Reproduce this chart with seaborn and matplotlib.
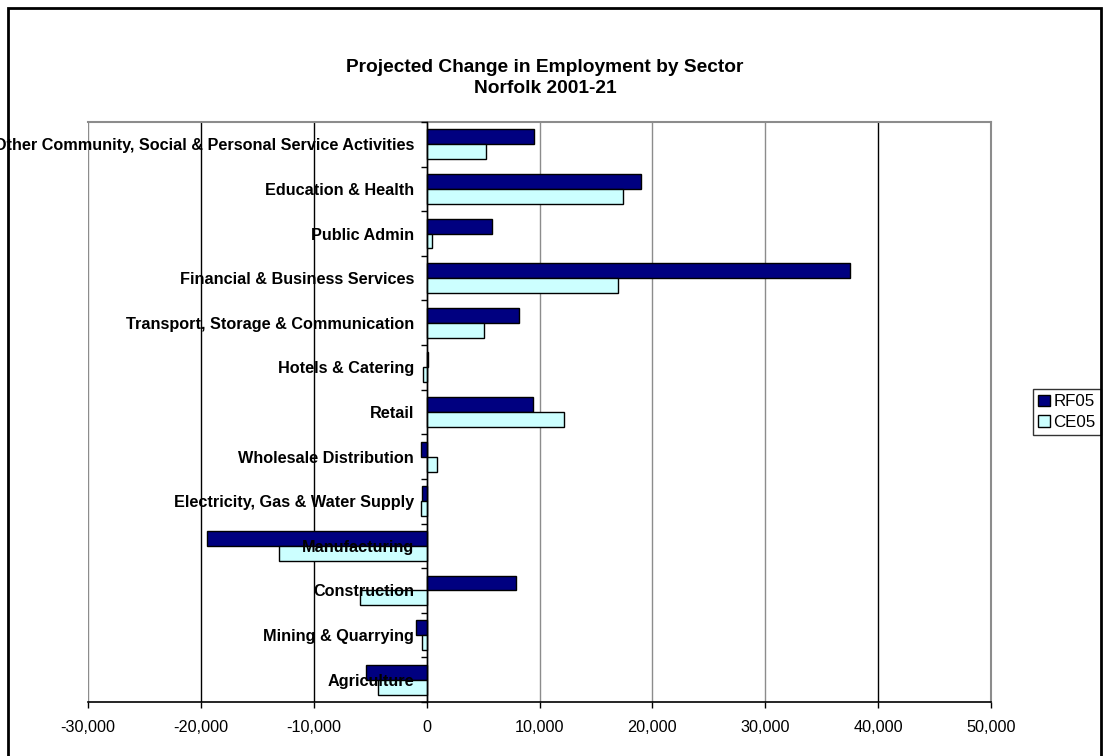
import matplotlib
matplotlib.use("Agg")
import matplotlib.pyplot as plt
import matplotlib.patches as mpatches
from matplotlib.ticker import FuncFormatter, FixedLocator
import seaborn as sns
import pandas as pd
import numpy as np

sectors = [
    "Other Community, Social & Personal Service Activities",
    "Education & Health",
    "Public Admin",
    "Financial & Business Services",
    "Transport, Storage & Communication",
    "Hotels & Catering",
    "Retail",
    "Wholesale Distribution",
    "Electricity, Gas & Water Supply",
    "Manufacturing",
    "Construction",
    "Mining & Quarrying",
    "Agriculture",
]
rf05 = [9500, 19000, 5760, 37530, 8200, 120, 9440, -490, -410, -19460, 7880, -920, -5340]
ce05 = [5230, 17400, 440, 16980, 5100, -340, 12200, 900, -480, -13050, -5930, -410, -4310]
series_names = ["RF05", "CE05"]
x_ticks = [-30000, -20000, -10000, 0, 10000, 20000, 30000, 40000, 50000]

df = pd.DataFrame({
    "sector": sectors * 2,
    "value": rf05 + ce05,
    "series": [series_names[0]] * len(sectors) + [series_names[1]] * len(sectors),
})

sns.set_theme(style="white")
plt.rcParams["font.family"] = ["Liberation Sans", "DejaVu Sans"]
plt.rcParams["text.color"] = "black"
plt.rcParams["xtick.color"] = "black"
plt.rcParams["ytick.color"] = "black"
plt.rcParams["axes.labelcolor"] = "black"

W, H = 1109, 756
fig = plt.figure(figsize=(W / 100, H / 100), dpi=100)
ax = fig.add_axes([88 / W, 1 - 702 / H, (991 - 88) / W, (702 - 122) / H])

palette = {"RF05": "#000080", "CE05": "#CCFFFF"}
sns.barplot(data=df, y="sector", x="value", hue="series", order=sectors,
            hue_order=series_names, palette=palette, orient="h",
            width=0.67, edgecolor="black", linewidth=1.0, errorbar=None,
            saturation=1, ax=ax, zorder=3)

ax.set_xlim(-30000, 50000)
ax.set_ylim(len(sectors) - 0.5, -0.5)
ax.set_xlabel("")
ax.set_ylabel("")

# gridlines
ax.xaxis.set_major_locator(FixedLocator(x_ticks))
ax.xaxis.set_major_formatter(FuncFormatter(lambda v, p: f"{int(v):,}"))
ax.grid(axis="x", linewidth=1.0)
ax.grid(axis="y", visible=False)
ax.set_axisbelow(True)
ax.yaxis.set_zorder(5)
grid_cols = ["#8c8c8c", "black", "black", "black", "#8c8c8c", "#8c8c8c", "#8c8c8c", "black", "#8c8c8c"]
for gl, c in zip(ax.get_xgridlines(), grid_cols):
    gl.set_color(c)

# spines
ax.spines["left"].set_position(("data", 0))
ax.spines["left"].set_color("black")
ax.spines["left"].set_linewidth(1.0)
ax.spines["left"].set_zorder(4)
ax.spines["bottom"].set_color("black")
ax.spines["bottom"].set_linewidth(1.2)
for s in ["top", "right"]:
    ax.spines[s].set_visible(True)
    ax.spines[s].set_color("#8c8c8c")
    ax.spines[s].set_linewidth(1.5)

# y ticks: labels at categories, tick marks at boundaries
ax.set_yticks(range(len(sectors)))
ax.set_yticklabels(sectors, fontsize=11.7, fontweight="bold", color="black")
ax.set_yticks(np.arange(-0.5, len(sectors), 1), minor=True)
ax.tick_params(axis="y", which="major", length=0, pad=9)
ax.tick_params(axis="y", which="minor", length=4, width=1, color="black", direction="out", left=True)
ax.tick_params(axis="x", which="major", length=4, width=1, color="black", direction="out",
               bottom=True, labelsize=11.7, pad=9, labelcolor="black")

# legend
handles = [mpatches.Patch(facecolor=palette[n], edgecolor="black", linewidth=1.0, label=n) for n in series_names]
if ax.get_legend() is not None:
    ax.get_legend().remove()
leg = fig.legend(handles=handles, loc="center left", bbox_to_anchor=(1033 / W, 1 - 412 / H),
                 frameon=True, fancybox=False, shadow=False, fontsize=12.2,
                 handlelength=0.7, handleheight=0.7, handletextpad=0.2,
                 borderpad=0.3, labelspacing=0.3, borderaxespad=0)
leg.get_frame().set_edgecolor("black")
leg.get_frame().set_linewidth(1.0)
for t in leg.get_texts():
    t.set_color("black")

# title
fig.text(545 / W, 1 - 78 / H, "Projected Change in Employment by Sector\nNorfolk 2001-21",
         ha="center", va="center", fontsize=13.8, fontweight="bold", linespacing=1.3,
         color="black")

# figure border
fig.patches.append(mpatches.Rectangle((7.5 / W, -0.01), (1101 - 7.5) / W, 1 - 8 / H + 0.01,
                                      transform=fig.transFigure, fill=False,
                                      edgecolor="black", linewidth=2, zorder=10))

fig.savefig("out.png", dpi=100, facecolor="white")
